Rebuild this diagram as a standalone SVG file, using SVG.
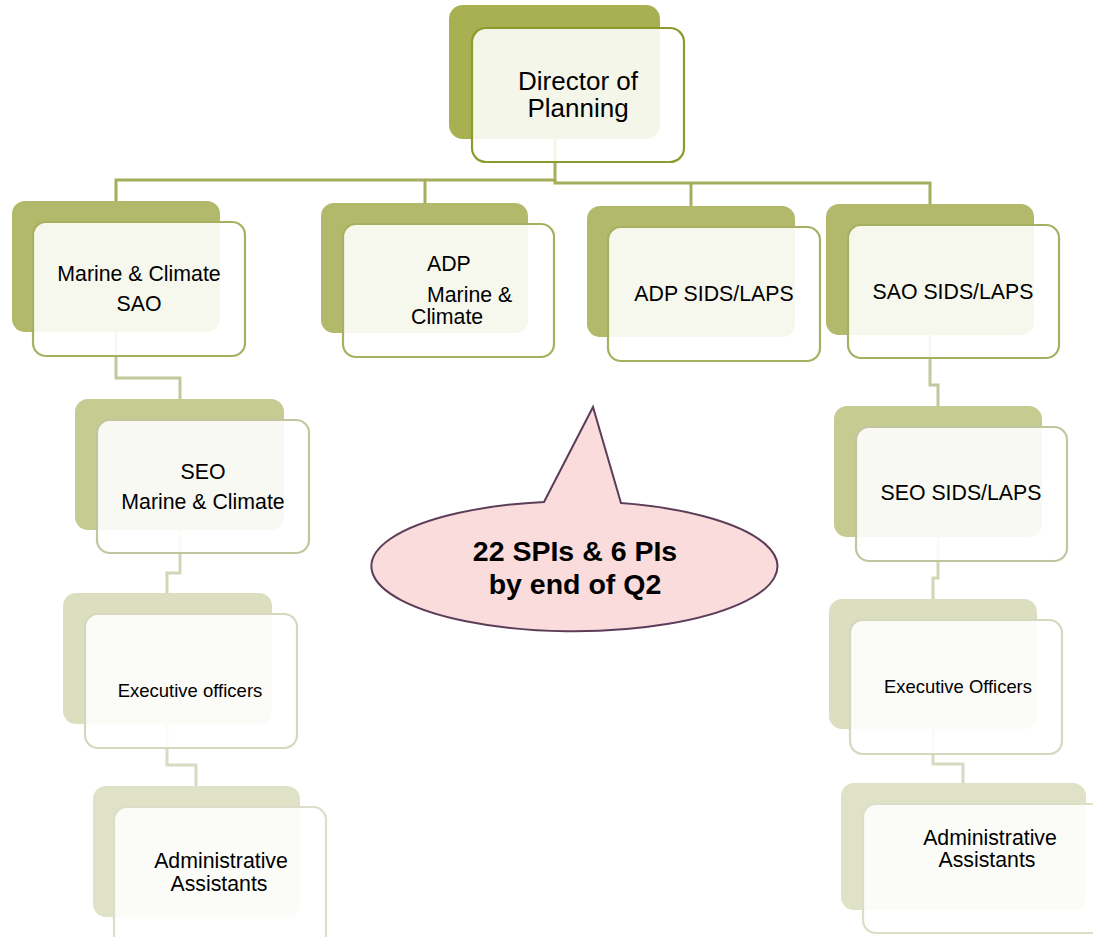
<svg xmlns="http://www.w3.org/2000/svg" width="1093" height="937" viewBox="0 0 1093 937">
<style>
.bk{stroke:none}
.fr{fill:#ffffff;fill-opacity:0.88;stroke-width:2.2}
.t{font-family:"Liberation Sans",Arial,sans-serif;fill:#000}
.c{fill:none;stroke-width:3}
</style>
<rect width="1093" height="937" fill="#ffffff"/>
<g id="connectors">
<path class="c" stroke="#a5ae5c" d="M555,139 V180 H116 V201"/>
<path class="c" stroke="#a5ae5c" d="M425,180 V203"/>
<path class="c" stroke="#a5ae5c" d="M555,180 V183 H930 V204"/>
<path class="c" stroke="#a5ae5c" d="M691,183 V206"/>
<path class="c" stroke="#c3c79c" d="M116,332 V378 H180 V399"/>
<path class="c" stroke="#c3c79c" d="M930,335 V385 H938 V406"/>
<path class="c" stroke="#d3d5b8" d="M180,530 V573 H167 V593"/>
<path class="c" stroke="#d3d5b8" d="M938,537 V578 H933 V599"/>
<path class="c" stroke="#d8dac2" d="M167,724 V765 H196 V786"/>
<path class="c" stroke="#d8dac2" d="M933,729 V764 H963 V783"/>
</g>
<g id="director">
<rect class="bk" x="449" y="5" width="211" height="134" rx="14" fill="#a8b052"/>
<rect class="fr" x="472" y="28" width="212" height="134" rx="14" stroke="#8c9a2e" stroke-width="2.6"/>
<text class="t" x="578" y="90" font-size="26" text-anchor="middle">Director of</text>
<text class="t" x="578" y="117" font-size="26" text-anchor="middle">Planning</text>
</g>
<g id="sao-marine">
<rect class="bk" x="12" y="201" width="208" height="131" rx="13" fill="#b2b96a"/>
<rect class="fr" x="33" y="222" width="212" height="134" rx="13" stroke="#a7b060"/>
<text class="t" x="139" y="281" font-size="21.3" text-anchor="middle">Marine &amp; Climate</text>
<text class="t" x="139" y="311" font-size="21.3" text-anchor="middle">SAO</text>
</g>
<g id="adp-marine">
<rect class="bk" x="321" y="203" width="207" height="130" rx="13" fill="#b2b96a"/>
<rect class="fr" x="343" y="224" width="211" height="133" rx="13" stroke="#a7b060"/>
<text class="t" x="427" y="271" font-size="21.3">ADP</text>
<text class="t" x="427" y="302" font-size="21.3">Marine &amp;</text>
<text class="t" x="411" y="324" font-size="21.3">Climate</text>
</g>
<g id="adp-sids">
<rect class="bk" x="587" y="206" width="208" height="131" rx="13" fill="#b2b96a"/>
<rect class="fr" x="608" y="227" width="212" height="134" rx="13" stroke="#a7b060"/>
<text class="t" x="714" y="301" font-size="21.3" text-anchor="middle">ADP SIDS/LAPS</text>
</g>
<g id="sao-sids">
<rect class="bk" x="826" y="204" width="208" height="131" rx="13" fill="#b2b96a"/>
<rect class="fr" x="848" y="225" width="211" height="133" rx="13" stroke="#a7b060"/>
<text class="t" x="953" y="299" font-size="21.3" text-anchor="middle">SAO SIDS/LAPS</text>
</g>
<g id="seo-marine">
<rect class="bk" x="75" y="399" width="209" height="131" rx="13" fill="#c6cb92"/>
<rect class="fr" x="97" y="420" width="212" height="133" rx="13" stroke="#c2c69e"/>
<text class="t" x="203" y="479" font-size="21.3" text-anchor="middle">SEO</text>
<text class="t" x="203" y="509" font-size="21.3" text-anchor="middle">Marine &amp; Climate</text>
</g>
<g id="seo-sids">
<rect class="bk" x="834" y="406" width="208" height="131" rx="13" fill="#c6cb92"/>
<rect class="fr" x="856" y="427" width="211" height="134" rx="13" stroke="#c2c69e"/>
<text class="t" x="961" y="500" font-size="21.3" text-anchor="middle">SEO SIDS/LAPS</text>
</g>
<g id="exec-left">
<rect class="bk" x="63" y="593" width="209" height="131" rx="13" fill="#dcdfbf"/>
<rect class="fr" x="85" y="614" width="212" height="134" rx="13" stroke="#d5d7bf"/>
<text class="t" x="190" y="697" font-size="18.5" text-anchor="middle">Executive officers</text>
</g>
<g id="exec-right">
<rect class="bk" x="829" y="599" width="208" height="130" rx="13" fill="#dcdfbf"/>
<rect class="fr" x="850" y="620" width="212" height="134" rx="13" stroke="#d5d7bf"/>
<text class="t" x="958" y="693" font-size="18.4" text-anchor="middle">Executive Officers</text>
</g>
<g id="admin-left">
<rect class="bk" x="93" y="786" width="207" height="131" rx="13" fill="#dfe2c6"/>
<rect class="fr" x="114" y="807" width="212" height="140" rx="13" stroke="#dcdec9"/>
<text class="t" x="221" y="868" font-size="21.3" text-anchor="middle">Administrative</text>
<text class="t" x="219" y="891" font-size="21.3" text-anchor="middle">Assistants</text>
</g>
<g id="admin-right">
<rect class="bk" x="841" y="783" width="245" height="127" rx="13" fill="#dfe2c6"/>
<rect class="fr" x="863" y="804" width="250" height="129" rx="13" stroke="#dcdec9"/>
<text class="t" x="990" y="845" font-size="21.3" text-anchor="middle">Administrative</text>
<text class="t" x="987" y="867" font-size="21.3" text-anchor="middle">Assistants</text>
</g>
<g id="callout">
<path d="M544,502 L593,407 L621,503 A203,65 0 1 1 544,502 Z" fill="#f9dcdb" stroke="#5c3d59" stroke-width="2" stroke-linejoin="miter"/>
<text class="t" x="575" y="561" font-size="28.5" font-weight="bold" text-anchor="middle">22 SPIs &amp; 6 PIs</text>
<text class="t" x="575" y="594" font-size="28.5" font-weight="bold" text-anchor="middle">by end of Q2</text>
</g>
</svg>
